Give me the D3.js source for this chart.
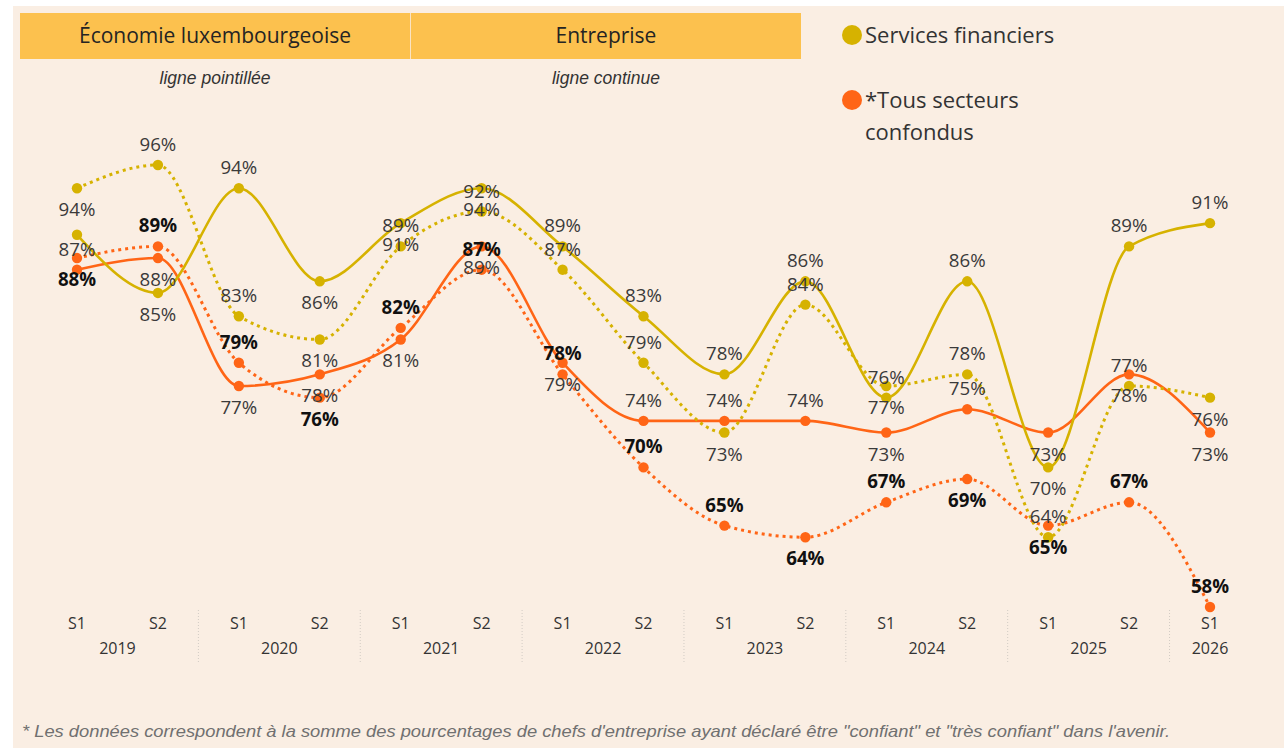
<!DOCTYPE html>
<html><head><meta charset="utf-8">
<script src="https://cdn.jsdelivr.net/npm/d3@7"></script>
<style>
html,body{margin:0;padding:0;background:#fff;}
svg{display:block;}
</style></head><body>
<svg id="chart" width="1284" height="748"></svg>
<script>
// ---- data ----
const semesters = ["S1","S2","S1","S2","S1","S2","S1","S2","S1","S2","S1","S2","S1","S2","S1"];
const years     = ["2019","2019","2020","2020","2021","2021","2022","2022","2023","2023","2024","2024","2025","2025","2026"];
const yearLabels = ["2019","2020","2021","2022","2023","2024","2025","2026"];
// Services financiers
const finEconomie   = [94, 96, 83, 81, 89, 92, 87, 79, 73, 84, 77, 78, 64, 77, 76]; // ligne pointillée
const finEntreprise = [90, 85, 94, 86, 91, 94, 89, 83, 78, 86, 76, 86, 70, 89, 91]; // ligne continue
// *Tous secteurs confondus
const allEconomie   = [88, 89, 79, 76, 82, 87, 78, 70, 65, 64, 67, 69, 65, 67, 58]; // ligne pointillée
const allEntreprise = [87, 88, 77, 78, 81, 89, 79, 74, 74, 74, 73, 75, 73, 78, 73]; // ligne continue
// label placement (a = above, b = below, - = hidden)
const finEconomieLbl   = "baabaaaababaaab";
const finEntrepriseLbl = "-babbbaaaaaabaa";
const allEconomieLbl   = "baabaaaaababbaa";
const allEntrepriseLbl = "abbbbbbaaababbb";

const headers = ["Économie luxembourgeoise", "Entreprise"];
const subHeaders = ["ligne pointillée", "ligne continue"];
const legendItems = [["Services financiers"], ["*Tous secteurs", "confondus"]];
const footnote = "* Les données correspondent à la somme des pourcentages de chefs d'entreprise ayant déclaré être \"confiant\" et \"très confiant\" dans l'avenir.";

// ---- style ----
const YELLOW = "#d6b200", ORANGE = "#ff6516", BG = "#faeee3", HEAD = "#fcc14e";
const periods = semesters.map((s, i) => s + " " + years[i]);

const svg = d3.select("#chart");
svg.append("rect").attr("x", 13).attr("y", 6).attr("width", 1284 - 13).attr("height", 748 - 6).attr("fill", BG);

const x = d3.scalePoint().domain(periods).range([77, 1210]);
const y = d3.scaleLinear().domain([58, 96]).range([607, 165]);

// headers
const hx = d3.scaleBand().domain(headers).range([20, 801]).paddingInner(0.002);
const hg = svg.append("g");
hg.selectAll("rect").data(headers).join("rect")
  .attr("x", d => hx(d)).attr("y", 13).attr("width", hx.bandwidth()).attr("height", 46).attr("fill", HEAD);
hg.selectAll("text.h").data(headers).join("text").attr("class", "h")
  .attr("x", d => hx(d) + hx.bandwidth() / 2).attr("y", 43)
  .attr("text-anchor", "middle").attr("font-family", "'Open Sans', sans-serif").attr("font-size", 21)
  .attr("fill", "#252423").text(d => d);
hg.selectAll("text.s").data(subHeaders).join("text").attr("class", "s")
  .attr("x", (d, i) => hx(headers[i]) + hx.bandwidth() / 2).attr("y", 84)
  .attr("text-anchor", "middle").attr("font-family", "'Liberation Sans', Arial, sans-serif").attr("font-style", "italic")
  .attr("font-size", 17.5).attr("fill", "#333").text(d => d);

// legend
const lg = svg.append("g").attr("font-family", "'Open Sans', sans-serif").attr("font-size", 22).attr("fill", "#333");
[[YELLOW, 35], [ORANGE, 100]].forEach(([c, cy], i) => {
  lg.append("circle").attr("cx", 852).attr("cy", cy).attr("r", 10).attr("fill", c);
  legendItems[i].forEach((t, j) => {
    lg.append("text").attr("x", 865).attr("y", cy + 8 + j * 32).text(t);
  });
});

// axis
const ax = svg.append("g").attr("font-family", "'Open Sans', sans-serif").attr("font-size", 16).attr("fill", "#333");
ax.selectAll("text.sem").data(periods).join("text").attr("class", "sem")
  .attr("x", d => x(d)).attr("y", 629).attr("text-anchor", "middle").text((d, i) => semesters[i]);
ax.selectAll("text.yr").data(yearLabels).join("text").attr("class", "yr")
  .attr("x", yr => d3.mean(periods.filter((p, i) => years[i] === yr), p => x(p)))
  .attr("y", 654).attr("text-anchor", "middle").text(d => d);
const step = x.step();
ax.selectAll("line.div").data(yearLabels.slice(1)).join("line").attr("class", "div")
  .attr("x1", yr => x(periods[years.indexOf(yr)]) - step / 2)
  .attr("x2", yr => x(periods[years.indexOf(yr)]) - step / 2)
  .attr("y1", 610).attr("y2", 664)
  .attr("stroke", "#d2cbc4").attr("stroke-width", 1).attr("stroke-dasharray", "1,2");

// series
const series = [
  { v: allEconomie,   c: ORANGE, dash: true,  bold: true,  lbl: allEconomieLbl },
  { v: allEntreprise, c: ORANGE, dash: false, bold: false, lbl: allEntrepriseLbl },
  { v: finEconomie,   c: YELLOW, dash: true,  bold: false, lbl: finEconomieLbl },
  { v: finEntreprise, c: YELLOW, dash: false, bold: false, lbl: finEntrepriseLbl },
];
const line = d3.line().x((d, i) => x(periods[i])).y(d => y(d)).curve(d3.curveMonotoneX);
const sg = svg.append("g");
series.forEach(s => {
  sg.append("path").datum(s.v).attr("d", line).attr("fill", "none").attr("stroke", s.c)
    .attr("stroke-width", s.dash ? 3 : 2.6)
    .attr("stroke-dasharray", s.dash ? "3,4" : null);
  sg.selectAll(null).data(s.v).join("circle")
    .attr("cx", (d, i) => x(periods[i])).attr("cy", d => y(d)).attr("r", 5.2).attr("fill", s.c);
});
const lblG = svg.append("g").attr("font-family", "'Open Sans', sans-serif").attr("font-size", 18.7);
series.forEach(s => {
  const pts = s.v.map((v, i) => ({ v, i, pos: s.lbl[i] })).filter(d => d.pos !== "-");
  lblG.selectAll(null).data(pts).join("text")
    .attr("x", d => x(periods[d.i]))
    .attr("y", d => y(d.v) + (d.pos === "a" ? -14 : 28))
    .attr("text-anchor", "middle")
    .attr("font-weight", s.bold ? 700 : 400)
    .attr("fill", s.bold ? "#111" : "#3a3a3a")
    .text(d => d.v + "%");
});

// footnote
svg.append("text").attr("x", 22).attr("y", 737)
  .attr("font-family", "'Liberation Sans', Arial, sans-serif").attr("font-style", "italic")
  .attr("font-size", 17).attr("textLength", 1148).attr("lengthAdjust", "spacingAndGlyphs")
  .attr("fill", "#707070").text(footnote);
</script>
</body></html>
